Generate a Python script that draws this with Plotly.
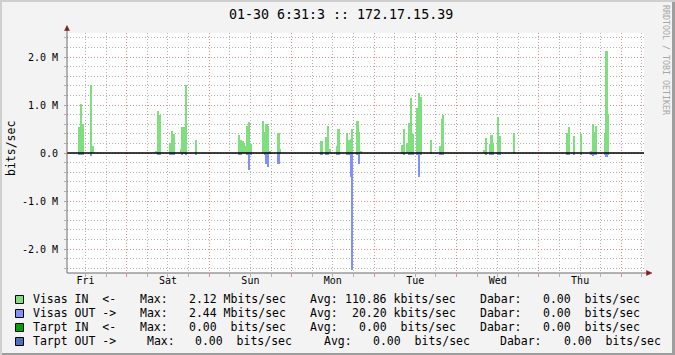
import plotly.graph_objects as go

# ---------------- data (hours from Fri 00:00, values in Mbit/s, 30-min bins) ----------------
BIN_H = 0.5
in_start = [10.0, 10.5, 11.0, 13.5, 14.0,
            32.5, 33.0, 33.5, 36.5, 37.0, 37.5, 39.5, 40.0, 40.5, 41.0, 44.0,
            56.5, 57.0, 57.5, 58.0, 58.5, 59.0, 59.5, 60.0, 63.5, 64.0, 64.5, 65.0, 65.5, 68.0, 68.5,
            80.5, 82.0, 82.5, 83.0, 85.0, 85.5, 88.0, 88.5, 89.0, 89.5, 91.0, 91.5, 92.0,
            104.0, 104.5, 105.5, 106.0, 106.5, 107.0, 108.5, 109.0, 109.5, 112.5, 115.0, 115.5, 116.0,
            128.0, 128.5, 129.5, 130.0, 130.5, 132.0, 132.5, 136.5,
            152.0, 152.5, 154.0, 156.0, 159.0, 159.5, 160.0, 160.5, 163.0, 163.5, 164.0]
in_mbps = [0.55, 1.03, 0.61, 1.42, 0.15,
           0.03, 0.88, 0.80, 0.21, 0.46, 0.40, 0.09, 0.55, 0.55, 1.42, 0.28,
           0.38, 0.28, 0.24, 0.19, 0.14, 0.57, 0.65, 0.19, 0.67, 0.44, 0.61, 0.57, 0.05, 0.42, 0.09,
           0.24, 0.34, 0.57, 0.09, 0.15, 0.51, 0.42, 0.28, 0.30, 0.49, 0.67, 0.44, 0.05,
           0.17, 0.49, 0.21, 0.63, 1.15, 0.40, 0.94, 1.24, 1.17, 0.28, 0.15, 0.71, 0.80,
           0.07, 0.32, 0.19, 0.38, 0.19, 0.74, 0.36, 0.42,
           0.42, 0.55, 0.36, 0.40, 0.05, 0.61, 0.44, 0.57, 0.40, 2.12, 0.82]

out_start = [10.0, 10.5, 11.0, 13.5,
             33.0, 33.5, 36.5, 37.0, 37.5, 40.0, 41.0, 44.0,
             56.5, 57.0, 59.0, 59.5, 60.0, 64.0, 64.5, 65.0, 65.5, 68.0,
             80.5, 82.0, 82.5, 85.0, 85.5, 88.0, 88.5, 89.0, 89.5, 91.0, 91.5,
             104.0, 104.5, 106.0, 106.5, 107.0, 108.5, 109.0, 109.5, 112.5, 115.0, 115.5, 116.0,
             128.5, 129.5, 130.0, 130.5, 132.0, 132.5, 136.5,
             152.0, 152.5, 154.0, 156.0, 159.0, 159.5, 160.0, 160.5, 163.0, 163.5, 164.0]
out_mbps = [-0.05, -0.05, -0.04, -0.07,
            -0.05, -0.05, -0.04, -0.05, -0.04, -0.05, -0.05, -0.05,
            -0.03, -0.03, -0.05, -0.36, -0.03, -0.04, -0.22, -0.30, -0.02, -0.22,
            -0.03, -0.03, -0.03, -0.03, -0.03, -0.05, -0.05, -0.49, -2.44, -0.05, -0.23,
            -0.02, -0.04, -0.05, -0.05, -0.05, -0.05, -0.49, -0.05, -0.02, -0.04, -0.04, -0.04,
            -0.04, -0.03, -0.03, -0.03, -0.03, -0.03, -0.02,
            -0.03, -0.03, -0.03, -0.05, -0.03, -0.07, -0.03, -0.03, -0.05, -0.09, -0.03]

day_names = ["Fri", "Sat", "Sun", "Mon", "Tue", "Wed", "Thu"]
day_noon = [12, 36, 60, 84, 108, 132, 156]
day_bounds = [24, 48, 72, 96, 120, 144, 168]
x_range = [6.6, 174.6]
y_range = [-2.5, 2.5]
y_ticks = [-2, -1, 0, 1, 2]
y_labels = ["-2.0 M", "-1.0 M", "0.0", "1.0 M", "2.0 M"]

title_text = "01-30 6:31:3 :: 172.17.15.39"
legend_names = ["Visas IN  <-", "Visas OUT ->", "Tarpt IN  <-", "Tarpt OUT ->"]
legend_colors = ["#7FDF7F", "#7F8FFF", "#00A000", "#4F6FBF"]
max_txt = ["2.12 Mbits/sec", "2.44 Mbits/sec", "0.00  bits/sec", "0.00  bits/sec"]
avg_txt = ["110.86 kbits/sec", "20.20 kbits/sec", "0.00  bits/sec", "0.00  bits/sec"]
cur_txt = ["0.00  bits/sec", "0.00  bits/sec", "0.00  bits/sec", "0.00  bits/sec"]

# ---------------- layout geometry ----------------
W, H = 675, 355
ML, MR, MT, MB = 67, 31, 33, 82
PW = W - ML - MR
PH = H - MT - MB
MONO = "DejaVu Sans Mono"


def px(x):
    return (x - ML) / PW


def py(y):
    return (H - MB - y) / PH


fig = go.Figure()
fig.add_trace(go.Bar(x=in_start, y=in_mbps, width=BIN_H, offset=0,
                     marker=dict(color=legend_colors[0], line=dict(width=0)),
                     name=legend_names[0], hoverinfo="skip"))
fig.add_trace(go.Bar(x=out_start, y=out_mbps, width=BIN_H, offset=0,
                     marker=dict(color=legend_colors[1], line=dict(width=0)),
                     name=legend_names[1], hoverinfo="skip"))
fig.add_trace(go.Scatter(x=[], y=[], xaxis="x2", showlegend=False))

grid_minor = "#B2B2B2"
grid_major = "#E08C8C"
dash = "1px,2px"

fig.update_layout(
    width=W, height=H,
    margin=dict(l=ML, r=MR, t=MT, b=MB, pad=0),
    paper_bgcolor="#F3F3F3", plot_bgcolor="#FFFFFF",
    barmode="overlay", bargap=0, showlegend=False,
    font=dict(family=MONO, size=10, color="#000000"),
    xaxis=dict(range=x_range, tickvals=day_bounds, ticktext=[""] * len(day_bounds),
               showgrid=True, gridcolor=grid_major, griddash=dash, gridwidth=1,
               ticks="outside", ticklen=3, tickcolor=grid_major,
               minor=dict(dtick=6, tick0=0, showgrid=True, gridcolor=grid_minor,
                          griddash=dash, gridwidth=1, ticks="outside", ticklen=3,
                          tickcolor=grid_minor),
               zeroline=False, showline=False, fixedrange=True),
    xaxis2=dict(range=x_range, overlaying="x", anchor="y", side="bottom",
                tickvals=day_noon, ticktext=day_names, showgrid=False, ticks="",
                zeroline=False, showline=False,
                tickfont=dict(family=MONO, size=10, color="#000000")),
    yaxis=dict(range=y_range, tickvals=y_ticks, ticktext=y_labels,
               showgrid=True, gridcolor=grid_major, griddash=dash, gridwidth=1,
               ticks="outside", ticklen=2, tickcolor=grid_major,
               minor=dict(dtick=0.2, tick0=0, showgrid=True, gridcolor=grid_minor,
                          griddash=dash, gridwidth=1, ticks="outside", ticklen=2,
                          tickcolor=grid_minor),
               zeroline=False, showline=False, ticklabelstandoff=4,
               tickfont=dict(family=MONO, size=10, color="#000000")),
)

shapes = []
# zero line
shapes.append(dict(type="line", xref="paper", yref="y", x0=0, x1=1, y0=0, y1=0,
                   line=dict(color="#000000", width=1.3), layer="above"))
# axes
axis_col = "#6A6A6A"
arrow_col = "#801F1F"
shapes.append(dict(type="line", xref="paper", yref="paper", x0=0, x1=px(648), y0=0, y1=0,
                   line=dict(color=axis_col, width=1), layer="above"))
shapes.append(dict(type="line", xref="paper", yref="paper", x0=0, x1=0, y0=0, y1=py(29),
                   line=dict(color=axis_col, width=1), layer="above"))
shapes.append(dict(type="path", xref="paper", yref="paper",
                   path=f"M {px(646.5)} {py(270.5)} L {px(652)} {py(273)} L {px(646.5)} {py(275.5)} Z",
                   fillcolor=arrow_col, line=dict(color=arrow_col, width=0.5), layer="above"))
shapes.append(dict(type="path", xref="paper", yref="paper",
                   path=f"M {px(64.5)} {py(30.5)} L {px(67)} {py(25.5)} L {px(69.5)} {py(30.5)} Z",
                   fillcolor=arrow_col, line=dict(color=arrow_col, width=0.5), layer="above"))
# image border (shade A top/left, shade B bottom/right)
shadeA, shadeB = "#CFCFCF", "#9E9E9E"
shapes.append(dict(type="rect", xref="paper", yref="paper", x0=px(0), x1=px(W), y0=py(0), y1=py(2),
                   fillcolor=shadeA, line=dict(width=0), layer="above"))
shapes.append(dict(type="rect", xref="paper", yref="paper", x0=px(0), x1=px(2), y0=py(0), y1=py(H),
                   fillcolor=shadeA, line=dict(width=0), layer="above"))
shapes.append(dict(type="rect", xref="paper", yref="paper", x0=px(2), x1=px(W), y0=py(H - 2), y1=py(H),
                   fillcolor=shadeB, line=dict(width=0), layer="above"))
shapes.append(dict(type="rect", xref="paper", yref="paper", x0=px(W - 3), x1=px(W), y0=py(2), y1=py(H),
                   fillcolor=shadeB, line=dict(width=0), layer="above"))

annotations = []
annotations.append(dict(text=title_text, xref="paper", yref="paper", x=px(341), y=py(14),
                        xanchor="center", yanchor="middle", showarrow=False,
                        font=dict(family=MONO, size=13.3, color="#000000")))
annotations.append(dict(text="bits/sec", xref="paper", yref="paper", x=px(11), y=py(149),
                        xanchor="center", yanchor="middle", showarrow=False, textangle=-90,
                        font=dict(family=MONO, size=11.5, color="#000000")))
annotations.append(dict(text="RRDTOOL / TOBI OETIKER", xref="paper", yref="paper", x=px(666), y=py(60),
                        xanchor="center", yanchor="middle", showarrow=False, textangle=90,
                        font=dict(family=MONO, size=8.3, color="#A8A8A8")))

row_y = [299, 313, 327, 341]
col_max_lbl = [137.7, 137.7, 137.7, 144.7]
col_max_val = [186.7, 186.7, 186.7, 193.3]
col_avg_lbl = [307.7, 307.7, 307.7, 321.7]
col_avg_val = [342.7, 349.7, 356.7, 371.0]
col_cur_lbl = [477.7, 477.7, 477.7, 498.3]
col_cur_val = [540.7, 540.7, 540.7, 561.7]

lf = dict(family=MONO, size=11.5, color="#000000")
for i in range(4):
    yy = row_y[i]
    shapes.append(dict(type="rect", xref="paper", yref="paper",
                       x0=px(15.5), x1=px(23.5), y0=py(yy - 3.5), y1=py(yy + 4.5),
                       fillcolor=legend_colors[i], line=dict(color="#000000", width=1), layer="above"))
    segs = [(30.7, legend_names[i]), (col_max_lbl[i], "Max:"), (col_max_val[i], max_txt[i]),
            (col_avg_lbl[i], "Avg:"), (col_avg_val[i], avg_txt[i]),
            (col_cur_lbl[i], "Dabar:"), (col_cur_val[i], cur_txt[i])]
    for xx, t in segs:
        annotations.append(dict(text=t.replace(" ", "&nbsp;"), xref="paper", yref="paper",
                                x=px(xx), y=py(yy), xanchor="left", yanchor="middle",
                                showarrow=False, font=lf))

fig.update_layout(shapes=shapes, annotations=annotations)
fig.write_html("out.html")
